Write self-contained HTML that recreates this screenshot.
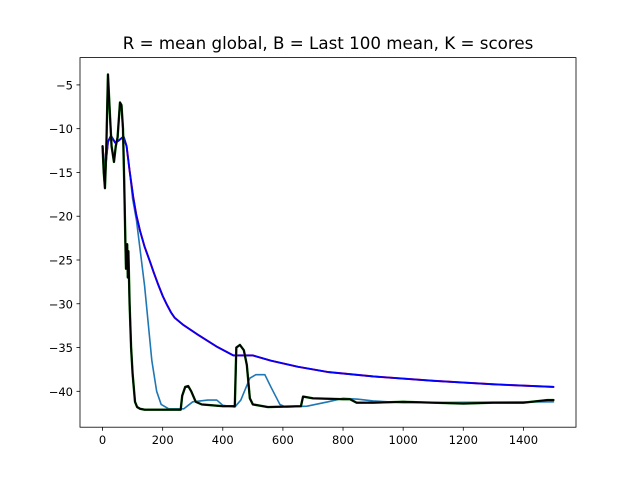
<!DOCTYPE html>
<html><head><meta charset="utf-8"><style>
body{margin:0;background:#fff;}
svg{display:block;font-family:"DejaVu Sans","Liberation Sans",sans-serif;}
</style></head><body>
<svg id="chart" width="640" height="480" viewBox="0 0 640 480" xmlns="http://www.w3.org/2000/svg">
<rect x="0" y="0" width="640" height="480" fill="#fff"/>
<text x="328" y="49" font-size="16.7" text-anchor="middle" fill="#000">R = mean global, B = Last 100 mean, K = scores</text>
<g id="plot"></g>
<rect x="80" y="57.6" width="496" height="369.6" fill="none" stroke="#000" stroke-width="0.8"/>
</svg>
<script>
const xTicks=[0,200,400,600,800,1000,1200,1400];
const yTicks=[-5,-10,-15,-20,-25,-30,-35,-40];
const meanX=[0,8,18,28,42,52,70,80,90,102,112,125,140,158,170,185,200,214,228,240,268,320,380,435,500,560,650,750,900,1100,1300,1500];
const meanY=[-12,-15,-11.5,-10.8,-11.6,-11.4,-10.9,-12,-14.8,-17.8,-19.8,-21.7,-23.5,-25.2,-26.4,-27.8,-29.1,-30.1,-31,-31.6,-32.4,-33.6,-34.9,-35.9,-35.9,-36.5,-37.2,-37.8,-38.3,-38.8,-39.2,-39.5];
const rollX=[0,8,18,28,42,52,70,80,90,100,113,140,164,180,195,220,270,300,350,380,400,440,460,490,510,540,560,590,610,680,750,800,850,900,1000,1500];
const rollY=[-12,-15,-11.5,-10.8,-11.6,-11.4,-10.9,-12,-14.8,-18,-20.5,-28,-36.5,-40,-41.5,-42,-42,-41.2,-41,-41,-41.6,-41.8,-41,-38.5,-38.1,-38.1,-39.5,-41.5,-41.8,-41.7,-41.2,-40.8,-40.9,-41.1,-41.3,-41.2];
const scoreX=[0,4,8,12,18,24,30,38,44,50,58,63,68,72,76,78,80,82,84,86,90,95,100,108,115,125,140,200,260,265,275,285,295,310,330,400,440,445,457,470,480,490,500,550,660,667,700,800,823,845,900,1000,1100,1200,1300,1400,1480,1500];
const scoreY=[-12,-15,-16.8,-13,-3.8,-8,-12,-13.8,-12,-11,-7,-7.3,-10,-16,-23,-26,-24,-23.2,-27,-24,-30,-35,-38,-41.2,-41.8,-42,-42.1,-42.1,-42.1,-40.5,-39.5,-39.4,-40,-41.2,-41.5,-41.7,-41.7,-35,-34.7,-35.3,-37,-40.8,-41.5,-41.8,-41.7,-40.6,-40.8,-40.9,-40.9,-41.3,-41.3,-41.2,-41.3,-41.4,-41.3,-41.3,-41,-41];
const X0=-75,X1=1575,Y0=-44.1,Y1=-1.88;
const L=80,R=576,T=57.6,B=427.2;
function sx(v){return L+(v-X0)/(X1-X0)*(R-L);}
function sy(v){return B-(v-Y0)/(Y1-Y0)*(B-T);}
const NS="http://www.w3.org/2000/svg";
const plot=document.getElementById('plot');
function mk(tag,attrs){const e=document.createElementNS(NS,tag);for(const k in attrs)e.setAttribute(k,attrs[k]);return e;}
function line(xs,ys,color,w,name){
  const d=xs.map((x,i)=>(i?'L':'M')+sx(x).toFixed(2)+','+sy(ys[i]).toFixed(2)).join('');
  const p=mk('path',{d:d,fill:'none',stroke:color,'stroke-width':w,'stroke-linejoin':'round','stroke-linecap':'round'});
  
  
  plot.appendChild(p);
}
line(rollX,rollY,'#1f77b4',1.6,'rolling-line');
line(meanX,meanY,'#ff0000',2,'mean-global-line');
line(meanX,meanY,'#0000ff',1.8,'last-100-mean-line');
line(scoreX,scoreY,'#008000',2.4,'scores-green-line');
line(scoreX,scoreY,'#000000',1.9,'scores-line');
xTicks.forEach(v=>{
  const x=sx(v);
  const t=mk('line',{x1:x,x2:x,y1:B,y2:B+3.5,stroke:'#000','stroke-width':0.8});
  
  
  plot.appendChild(t);
  const l=mk('text',{x:x,y:B+17,'font-size':'11.5','text-anchor':'middle',fill:'#000'});
  l.textContent=v;
  
  
  plot.appendChild(l);
});
yTicks.forEach(v=>{
  const y=sy(v);
  const t=mk('line',{x1:L-3.5,x2:L,y1:y,y2:y,stroke:'#000','stroke-width':0.8});
  
  
  plot.appendChild(t);
  const l=mk('text',{x:L-7,y:y+4.5,'font-size':'11.5','text-anchor':'end',fill:'#000'});
  l.textContent='\u2212'+Math.abs(v);
  
  
  plot.appendChild(l);
});
</script>
</body></html>
